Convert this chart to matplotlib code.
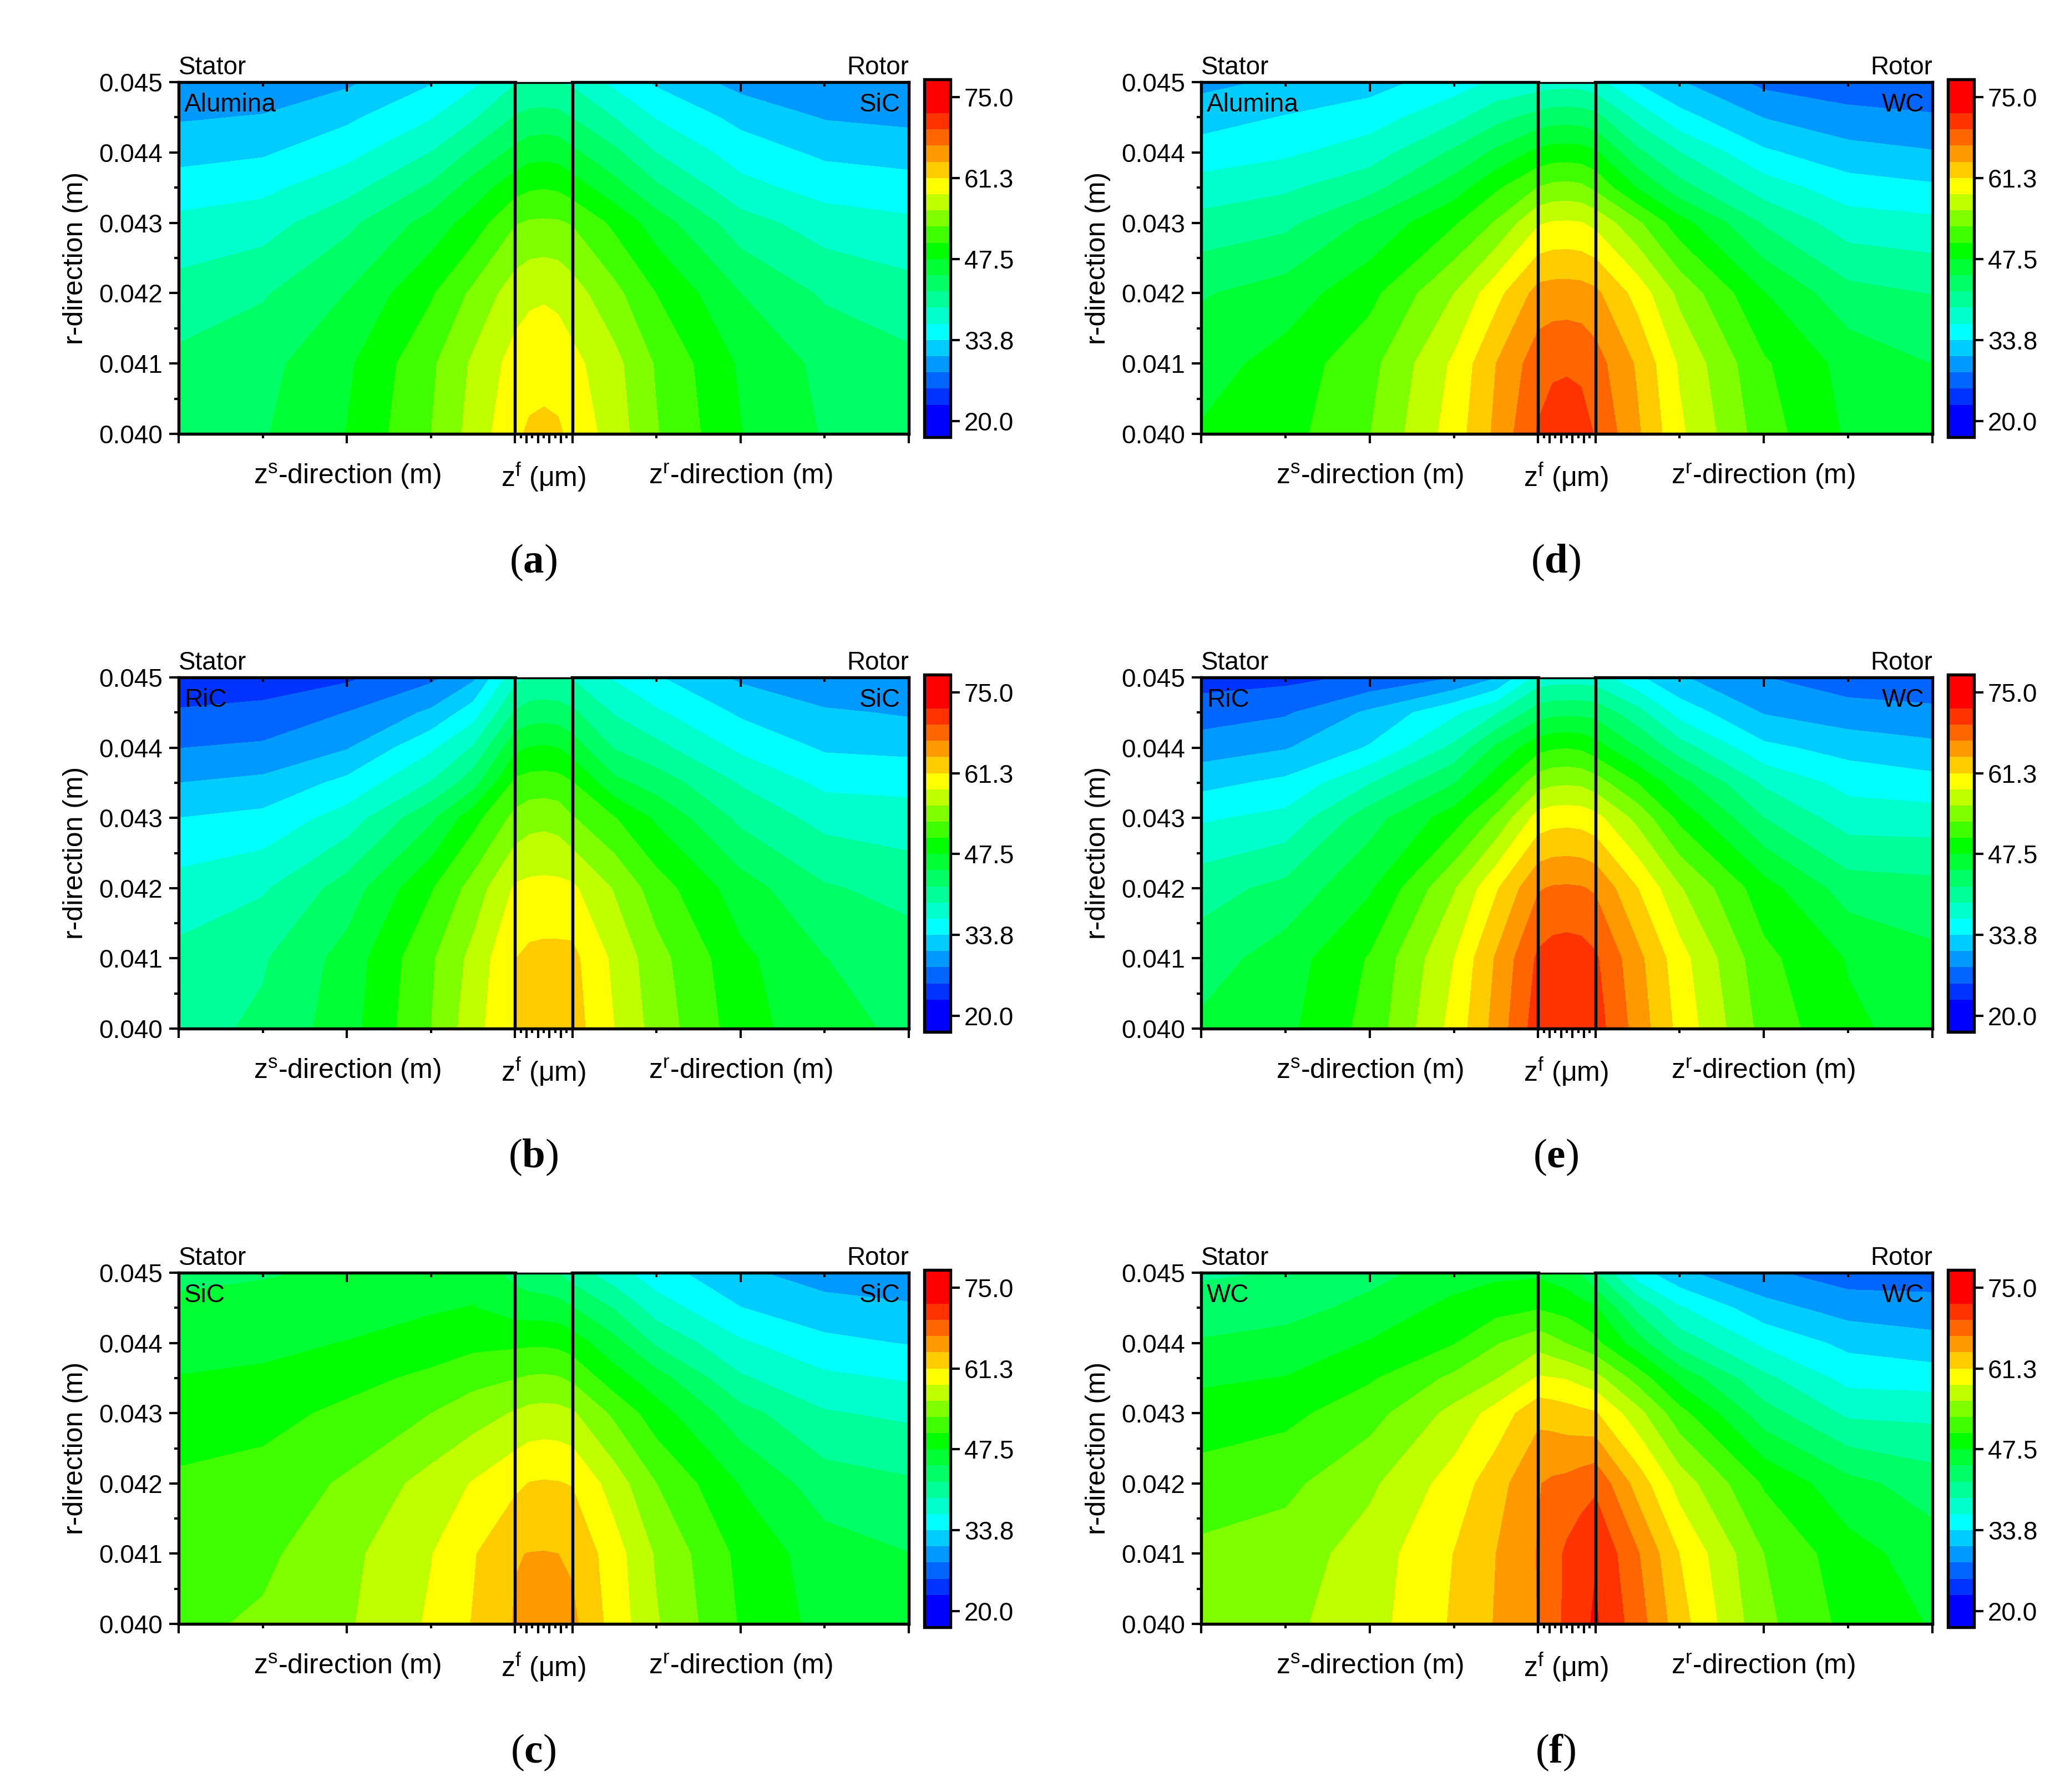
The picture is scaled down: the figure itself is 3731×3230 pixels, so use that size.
import numpy as np
import matplotlib
matplotlib.use('Agg')
import matplotlib.pyplot as plt

plt.rcParams['font.family'] = ['Liberation Sans', 'DejaVu Sans']
plt.rcParams['mathtext.fontset'] = 'custom'
plt.rcParams['mathtext.rm'] = 'Liberation Sans'
plt.rcParams['mathtext.bf'] = 'Liberation Serif:bold'

# z position: stator 0-4, film 4-4.68, rotor 4.68-8.68 (tick units)
z = [0, 1, 2, 3, 3.5, 4, 4.17, 4.34, 4.51, 4.68, 5.18, 5.68, 6.68, 7.68, 8.68]
r = [0.040, 0.041, 0.042, 0.043, 0.0435, 0.044, 0.0445, 0.045]

# temperature tables, rows go from r = 0.040 up to r = 0.045
temp_a = [
    [44.0, 44.5, 47.6, 53.0, 56.8, 60.7, 61.7, 62.0, 61.7, 60.5, 57.2, 53.2, 47.6, 44.5, 43.7],
    [42.7, 43.9, 47.0, 52.5, 56.2, 59.6, 59.95, 60.05, 59.9, 59.3, 56.6, 52.7, 47.1, 44.0, 42.7],
    [40.3, 41.7, 44.8, 49.9, 53.6, 57.2, 58.0, 58.2, 57.9, 56.9, 53.8, 50.2, 44.75, 41.6, 40.3],
    [37.2, 38.0, 41.3, 45.8, 48.7, 52.8, 53.3, 53.4, 53.3, 52.8, 49.6, 46.1, 40.4, 37.9, 37.0],
    [35.0, 35.8, 38.3, 42.5, 46.0, 49.2, 49.9, 50.1, 49.85, 48.9, 45.8, 42.5, 37.4, 35.4, 34.9],
    [32.8, 33.4, 35.6, 39.3, 42.5, 45.5, 46.4, 46.6, 46.35, 45.3, 42.6, 39.2, 35.2, 33.2, 32.6],
    [30.7, 31.2, 33.2, 36.3, 38.9, 42.2, 42.85, 43.0, 42.8, 41.9, 39.2, 36.3, 32.9, 30.8, 30.3],
    [28.6, 29.0, 30.5, 33.5, 35.9, 39.1, 39.35, 39.4, 39.3, 38.8, 35.8, 33.3, 30.0, 29.0, 28.7],
]
temp_b = [
    [41.0, 42.5, 46.3, 53.0, 57.4, 61.4, 63.1, 63.5, 63.3, 62.5, 58.5, 54.6, 48.8, 45.5, 44.3],
    [40.0, 41.7, 45.8, 52.6, 56.6, 61.2, 61.85, 62.0, 62.0, 62.0, 57.9, 54.0, 48.2, 44.8, 43.3],
    [37.6, 38.9, 43.2, 50.0, 54.1, 58.9, 59.2, 59.3, 59.25, 59.0, 55.5, 51.6, 46.0, 42.3, 41.1],
    [33.75, 34.5, 37.7, 44.2, 49.2, 53.8, 54.7, 54.9, 54.55, 53.2, 50.4, 47.0, 41.3, 38.3, 37.6],
    [31.0, 31.7, 34.5, 39.4, 43.6, 50.9, 51.4, 51.5, 51.3, 50.4, 45.5, 43.5, 39.0, 35.8, 35.7],
    [28.2, 28.7, 30.8, 36.0, 39.5, 46.8, 47.6, 47.8, 47.5, 46.2, 41.8, 40.0, 35.9, 33.4, 33.0],
    [25.8, 26.3, 28.3, 31.5, 35.2, 42.3, 43.2, 43.4, 43.2, 42.5, 39.0, 36.9, 33.3, 31.4, 30.7],
    [23.5, 24.0, 25.0, 27.6, 30.4, 38.5, 39.4, 39.6, 39.5, 39.0, 36.2, 34.0, 30.5, 28.5, 29.2],
]
temp_c = [
    [52.4, 53.4, 55.4, 58.9, 61.4, 64.2, 65.5, 65.8, 65.55, 64.6, 60.1, 56.0, 50.0, 46.5, 45.6],
    [51.8, 52.4, 55.0, 58.4, 61.0, 63.9, 64.05, 64.1, 64.0, 63.6, 59.7, 55.4, 49.5, 46.0, 44.8],
    [50.7, 51.3, 53.4, 56.8, 58.7, 60.7, 61.35, 61.5, 61.4, 61.1, 57.2, 53.0, 47.3, 43.3, 42.4],
    [48.8, 49.3, 50.9, 53.0, 54.5, 56.0, 56.55, 56.7, 56.6, 56.1, 52.4, 48.7, 43.0, 39.5, 38.7],
    [47.6, 48.0, 49.3, 50.9, 52.1, 52.9, 53.3, 53.4, 53.2, 52.5, 48.7, 45.9, 39.6, 37.1, 36.2],
    [46.5, 46.8, 47.6, 48.7, 49.5, 49.7, 49.8, 49.8, 49.6, 48.9, 45.6, 41.5, 36.9, 34.4, 33.6],
    [45.3, 45.7, 46.3, 47.2, 47.6, 46.3, 46.2, 46.1, 45.8, 44.9, 41.8, 37.9, 33.8, 32.2, 31.4],
    [44.1, 44.5, 45.2, 46.2, 46.5, 43.8, 43.0, 42.6, 42.0, 40.6, 37.6, 34.9, 31.6, 29.5, 29.1],
]
temp_d = [
    [47.8, 49.2, 52.95, 59.8, 64.6, 69.8, 70.9, 71.2, 70.8, 69.3, 64.4, 59.05, 51.5, 47.1, 46.2],
    [46.3, 48.6, 52.1, 59.0, 64.0, 68.3, 68.95, 69.1, 68.85, 67.9, 63.6, 58.1, 50.6, 46.5, 44.7],
    [44.5, 46.0, 49.4, 55.75, 60.3, 65.0, 65.25, 65.3, 65.15, 64.6, 60.2, 55.0, 47.6, 42.9, 41.9],
    [40.2, 41.3, 45.3, 49.9, 53.3, 58.2, 58.7, 58.8, 58.6, 57.8, 53.5, 48.6, 41.7, 37.8, 37.2],
    [37.7, 38.8, 41.1, 46.1, 49.8, 53.1, 53.75, 53.9, 53.6, 52.4, 47.3, 43.0, 37.9, 35.0, 34.2],
    [34.9, 36.0, 37.9, 42.5, 45.3, 48.2, 48.7, 48.8, 48.6, 47.9, 42.6, 39.3, 34.2, 32.0, 31.2],
    [32.6, 33.9, 35.2, 38.5, 41.1, 43.0, 43.5, 43.6, 43.45, 42.8, 38.4, 34.7, 30.9, 29.2, 28.6],
    [30.2, 31.5, 32.6, 35.1, 37.0, 37.8, 38.1, 38.2, 38.05, 37.5, 33.5, 31.2, 27.5, 26.5, 26.0],
]
temp_e = [
    [45.3, 46.8, 51.2, 59.5, 65.0, 71.0, 71.55, 71.7, 71.5, 70.8, 65.6, 60.4, 52.0, 48.0, 46.4],
    [43.4, 46.1, 50.5, 58.5, 64.3, 70.0, 70.7, 70.9, 70.7, 69.9, 64.8, 59.6, 51.0, 47.3, 45.4],
    [40.9, 42.8, 47.1, 55.5, 60.9, 66.5, 67.0, 67.1, 66.95, 66.4, 61.3, 56.0, 48.6, 43.4, 42.9],
    [36.1, 37.3, 43.6, 48.9, 53.5, 59.6, 60.15, 60.3, 60.1, 59.4, 54.9, 49.5, 42.0, 37.9, 37.8],
    [32.9, 34.4, 39.1, 44.6, 49.0, 54.6, 55.25, 55.4, 55.2, 54.3, 50.2, 45.7, 38.8, 35.6, 34.7],
    [29.6, 30.8, 34.0, 39.9, 45.3, 49.3, 49.95, 50.1, 49.8, 48.7, 44.7, 40.5, 34.4, 32.7, 31.7],
    [26.9, 27.9, 31.5, 35.9, 39.0, 43.4, 43.95, 44.1, 44.05, 43.8, 40.2, 35.4, 30.8, 29.4, 28.9],
    [24.3, 24.7, 26.0, 28.25, 30.8, 37.5, 37.9, 38.0, 37.95, 37.8, 34.2, 31.3, 28.3, 26.7, 26.3],
]
temp_f = [
    [55.0, 55.1, 57.4, 61.6, 64.2, 66.8, 68.3, 70.2, 71.6, 72.6, 68.1, 62.4, 53.7, 49.4, 47.3],
    [53.6, 54.3, 57.0, 61.3, 64.0, 66.9, 68.4, 70.0, 71.2, 72.1, 67.0, 61.2, 53.0, 48.6, 46.1],
    [51.4, 52.3, 55.2, 59.7, 62.8, 66.6, 67.2, 67.5, 68.2, 68.9, 62.9, 57.3, 49.9, 45.6, 43.4],
    [48.7, 49.5, 51.9, 56.6, 59.6, 63.2, 62.85, 62.4, 61.95, 61.5, 56.7, 51.2, 43.1, 38.7, 38.5],
    [47.0, 47.6, 49.9, 53.6, 55.6, 58.8, 58.6, 58.3, 57.5, 56.7, 51.9, 46.6, 39.9, 35.6, 35.2],
    [45.0, 45.7, 47.7, 50.1, 52.8, 54.7, 53.8, 52.9, 51.9, 50.9, 46.0, 40.9, 35.9, 33.0, 31.9],
    [43.3, 43.8, 45.5, 48.4, 49.2, 50.0, 49.6, 49.2, 48.5, 47.8, 41.3, 36.8, 32.0, 29.8, 29.4],
    [41.6, 42.1, 43.9, 46.0, 46.9, 47.0, 46.5, 45.9, 44.5, 42.0, 34.9, 31.5, 28.7, 26.8, 26.8],
]

temps = [temp_a, temp_b, temp_c, temp_d, temp_e, temp_f]
stators = ['Alumina', 'RiC', 'SiC', 'Alumina', 'RiC', 'WC']
rotors = ['SiC', 'SiC', 'SiC', 'WC', 'WC', 'WC']
tags = ['a', 'b', 'c', 'd', 'e', 'f']

# contour bands, the end ones are twice as tall
levels = [17.25] + [22.75 + 2.75 * i for i in range(19)] + [78.0]
band_colors = ['#0000ff', '#0033ff', '#0066ff', '#0099ff', '#00ccff', '#00ffff', '#00ffcc',
               '#00ff99', '#00ff66', '#00ff33', '#00ff00', '#40ff00', '#80ff00', '#bfff00',
               '#ffff00', '#ffcc00', '#ff9900', '#ff6600', '#ff3300', '#ff0000']
cbar_ticks = [20, 33.75, 47.5, 61.25, 75]
cbar_labels = ['20.0', '33.8', '47.5', '61.3', '75.0']

W, H = 3731, 3230
LW = 1.3
fig = plt.figure(figsize=(W / 300, H / 300), dpi=300)


def px_axes(l, t, rr, b):
    return fig.add_axes([l / W, 1 - b / H, (rr - l) / W, (b - t) / H])


def px_text(x, y, s, **kw):
    fig.text(x / W, 1 - y / H, s, **kw)


rows = [(148, 782), (1221, 1854), (2294, 2927)]
cols = [(322, 1638), (2165, 3483)]

for i in range(6):
    left, right = cols[i // 3]
    top, bot = rows[i % 3]
    ax = px_axes(left, top, right, bot)
    cf = ax.contourf(z, r, np.array(temps[i]), levels=levels, colors=band_colors, antialiased=False)
    ax.set_xlim(0, 8.68)
    ax.set_ylim(0.040, 0.045)

    for s in ax.spines.values():
        s.set_linewidth(LW)
    ax.axvline(4, color='k', lw=LW)
    ax.axvline(4.68, color='k', lw=LW)
    # film top edge sits a little lower than the solid ones
    ax.plot([4.03, 4.65], [0.045015, 0.045015], color='w', lw=0.6, clip_on=False, zorder=5)

    film_major = [4 + 0.136 * k for k in range(6)]
    film_minor = [4.068 + 0.136 * k for k in range(5)]
    ax.set_xticks([0, 2, 4] + film_major[1:] + [6.68, 8.68])
    ax.set_xticks([1, 3] + film_minor + [5.68, 7.68], minor=True)
    ax.set_xticklabels([])
    ax.set_yticks([0.040, 0.041, 0.042, 0.043, 0.044, 0.045])
    ax.set_yticklabels(['0.040', '0.041', '0.042', '0.043', '0.044', '0.045'])
    ax.set_yticks([0.0405, 0.0415, 0.0425, 0.0435, 0.0445], minor=True)
    ax.tick_params(which='major', length=4, width=1.0, labelsize=11, pad=3)
    ax.tick_params(which='minor', length=2, width=1.0)

    ax2 = ax.twiny()
    ax2.set_xlim(0, 8.68)
    ax2.set_xticks([2, 6.68])
    ax2.set_xticks([1, 3, 5.68, 7.68], minor=True)
    ax2.set_xticklabels([])
    ax2.tick_params(which='major', direction='in', length=4, width=1.0)
    ax2.tick_params(which='minor', direction='in', length=2, width=1.0)
    for s in ax2.spines.values():
        s.set_visible(False)

    ax.text(0.0075, 0.935, stators[i], transform=ax.transAxes, fontsize=11, va='center', ha='left')
    ax.text(0.9885, 0.935, rotors[i], transform=ax.transAxes, fontsize=11, va='center', ha='right')

    px_text(left, top - 26, 'Stator', fontsize=11, va='center', ha='left')
    px_text(right, top - 26, 'Rotor', fontsize=11, va='center', ha='right')
    px_text(left - 186, (top + bot) / 2, 'r-direction (m)', fontsize=12, rotation=90, va='center', ha='center')
    px_text(left + 304, bot + 76, 'z$^{\\mathrm{s}}$-direction (m)', fontsize=12, va='center', ha='center')
    px_text(left + 658, bot + 78, 'z$^{\\mathrm{f}}$ (μm)', fontsize=12, va='center', ha='center')
    px_text(left + 1013, bot + 76, 'z$^{\\mathrm{r}}$-direction (m)', fontsize=12, va='center', ha='center')
    px_text(left + 639, bot + 232, '($\\mathbf{%s}$)' % tags[i], fontsize=18, family='Liberation Serif',
            va='center', ha='center')

    cax = px_axes(right + 28, top - 5, right + 75, bot + 6)
    cb = fig.colorbar(cf, cax=cax, spacing='proportional')
    cb.set_ticks(cbar_ticks)
    cb.set_ticklabels(cbar_labels)
    cb.minorticks_off()
    cb.outline.set_linewidth(LW)
    cax.tick_params(length=4, width=1.0, labelsize=11, pad=2)

fig.savefig('out.png', dpi=300)
